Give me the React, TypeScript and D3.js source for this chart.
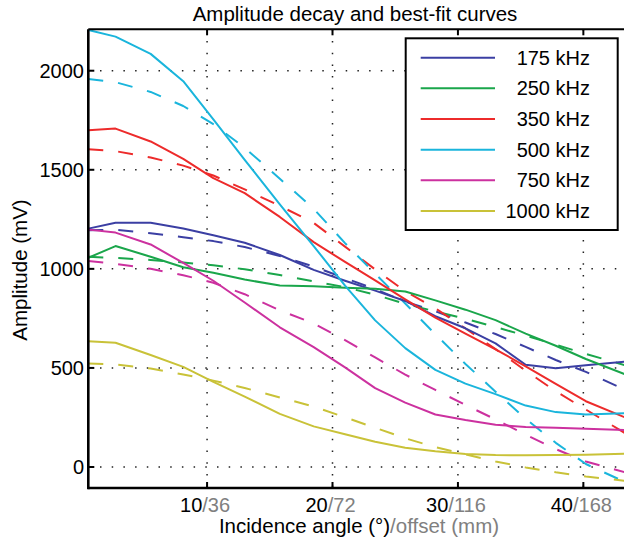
import React from "react";
import * as d3 from "d3";

const seriesNames = ["175 kHz", "250 kHz", "350 kHz", "500 kHz", "750 kHz", "1000 kHz"];
const seriesColors = ["#3b3fa3", "#1aa64b", "#ed2b2b", "#1ab5dc", "#cc319f", "#c9c238"];

const angles = [0.53, 2.7, 5.5, 8.1, 10.5, 13.0, 15.8, 18.5, 21.0, 23.4, 25.8, 28.2, 30.6, 33.0, 35.4, 37.8, 40.2, 43.4];

const measured175 = [1203, 1233, 1233, 1204, 1170, 1132, 1070, 995, 940, 890, 838, 761, 700, 624, 516, 498, 514, 532];
const measured250 = [1056, 1115, 1061, 1008, 980, 946, 916, 912, 905, 900, 886, 841, 794, 741, 673, 612, 545, 466];
const measured350 = [1700, 1708, 1643, 1555, 1458, 1382, 1262, 1135, 1035, 942, 846, 754, 673, 594, 508, 419, 332, 248];
const measured500 = [2205, 2172, 2085, 1947, 1755, 1550, 1326, 1115, 915, 740, 600, 490, 421, 368, 310, 277, 265, 272];
const measured750 = [1198, 1183, 1123, 1030, 940, 830, 705, 605, 503, 398, 325, 265, 237, 213, 202, 198, 193, 187];
const measured1000 = [635, 627, 565, 505, 430, 355, 268, 205, 165, 127, 97, 79, 65, 60, 59, 60, 62, 67];

const fit175 = [1195, 1197, 1180, 1160, 1140, 1110, 1065, 1012, 953, 898, 835, 786, 729, 671, 606, 540, 480, 388];
const fit250 = [1061, 1055, 1045, 1032, 1018, 998, 969, 937, 908, 869, 824, 785, 748, 706, 663, 617, 571, 512];
const fit350 = [1604, 1594, 1562, 1521, 1471, 1401, 1318, 1232, 1112, 997, 887, 801, 699, 595, 486, 382, 290, 168];
const fit500 = [1958, 1942, 1893, 1822, 1730, 1611, 1455, 1303, 1130, 975, 825, 670, 520, 380, 243, 122, 15, -78];
const fit750 = [1040, 1025, 1000, 968, 930, 872, 790, 725, 640, 553, 466, 389, 313, 240, 163, 90, 28, -28];
const fit1000 = [522, 517, 497, 467, 436, 399, 351, 305, 251, 198, 145, 100, 64, 28, -2, -27, -48, -70];

const measuredSeries = [measured175, measured250, measured350, measured500, measured750, measured1000];
const fitSeries = [fit175, fit250, fit350, fit500, fit750, fit1000];

const xTicks = [10, 20, 30, 40];
const xTickOffsets = ["36", "72", "116", "168"];
const yTicks = [0, 500, 1000, 1500, 2000];

const W = 624;
const H = 542;
const left = 88.3;
const right = 626;
const top = 29.3;
const bottom = 488;
const FONT = "'Liberation Sans', Arial, Helvetica, sans-serif";

export default function App() {
  const x = d3.scaleLinear().domain([0.53, 43.4]).range([left, right]);
  const y = d3.scaleLinear().domain([-106, 2209]).range([bottom, top]);
  const line = d3
    .line<[number, number]>()
    .x((d) => x(d[0]))
    .y((d) => y(d[1]));

  const legendRows = seriesNames.map((n, i) => ({ n, c: seriesColors[i], y: 57.7 + i * 30.65 }));

  return (
    <svg
      width={W}
      height={H}
      style={{ position: "absolute", left: 0, top: 0, background: "#fff" }}
      fontFamily={FONT}
    >
      <defs>
        <clipPath id="plotclip">
          <rect x={left} y={top} width={right - left} height={bottom - top} />
        </clipPath>
      </defs>
      <rect x={0} y={0} width={W} height={H} fill="#fff" />

      {/* grid */}
      <g stroke="#222" strokeWidth={1.5} strokeDasharray="1.5 10.2">
        {xTicks.map((t) => (
          <line key={"gx" + t} x1={x(t)} x2={x(t)} y1={top} y2={bottom} />
        ))}
        {yTicks.map((t) => (
          <line key={"gy" + t} x1={left} x2={right} y1={y(t)} y2={y(t)} />
        ))}
      </g>

      {/* data */}
      <g clipPath="url(#plotclip)" fill="none" strokeWidth={2} strokeLinejoin="round">
        {fitSeries.map((s, i) => (
          <path
            key={"f" + i}
            d={line(s.map((v, j) => [angles[j], v] as [number, number])) || ""}
            stroke={seriesColors[i]}
            strokeDasharray="15 15"
          />
        ))}
        {measuredSeries.map((s, i) => (
          <path
            key={"m" + i}
            d={line(s.map((v, j) => [angles[j], v] as [number, number])) || ""}
            stroke={seriesColors[i]}
          />
        ))}
      </g>

      {/* axes box */}
      <g stroke="#000" fill="none">
        <line x1={left} x2={right} y1={bottom} y2={bottom} strokeWidth={2.6} />
        <line x1={left} x2={left} y1={top} y2={bottom + 1.3} strokeWidth={2.6} />
        <line x1={left} x2={right} y1={top} y2={top} strokeWidth={2} />
        {xTicks.map((t) => (
          <g key={"tx" + t}>
            <line x1={x(t)} x2={x(t)} y1={bottom} y2={bottom - 6} strokeWidth={2} />
            <line x1={x(t)} x2={x(t)} y1={top} y2={top + 6} strokeWidth={2} />
          </g>
        ))}
        {yTicks.map((t) => (
          <line key={"ty" + t} x1={left} x2={left + 6} y1={y(t)} y2={y(t)} strokeWidth={2} />
        ))}
      </g>

      {/* tick labels */}
      <g fontSize={20} fill="#000">
        {yTicks.map((t) => (
          <text key={"ly" + t} x={84} y={y(t)} textAnchor="end" dominantBaseline="central">
            {t}
          </text>
        ))}
        {xTicks.map((t, i) => (
          <text key={"lx" + t} x={x(t) - 2} y={512} textAnchor="middle">
            <tspan fill="#000">{t}</tspan>
            <tspan fill="#808080">/{xTickOffsets[i]}</tspan>
          </text>
        ))}
      </g>

      {/* axis labels */}
      <text x={359} y={533} fontSize={20.5} textAnchor="middle">
        <tspan fill="#000">Incidence angle (°)</tspan>
        <tspan fill="#808080">/offset (mm)</tspan>
      </text>
      <text
        transform={`translate(19, 270) rotate(-90)`}
        fontSize={20.5}
        textAnchor="middle"
        dominantBaseline="central"
        fill="#000"
      >
        Amplitude (mV)
      </text>
      <text x={355} y={21} fontSize={20.5} textAnchor="middle" fill="#000">
        Amplitude decay and best-fit curves
      </text>

      {/* legend */}
      <rect x={405.7} y={38.3} width={212} height={191.7} fill="#fff" stroke="#000" strokeWidth={2} />
      {legendRows.map((r) => (
        <g key={r.n}>
          <line x1={420.7} x2={495} y1={r.y} y2={r.y} stroke={r.c} strokeWidth={2} />
          <text x={590} y={r.y} fontSize={20} textAnchor="end" dominantBaseline="central" fill="#000">
            {r.n}
          </text>
        </g>
      ))}
    </svg>
  );
}
